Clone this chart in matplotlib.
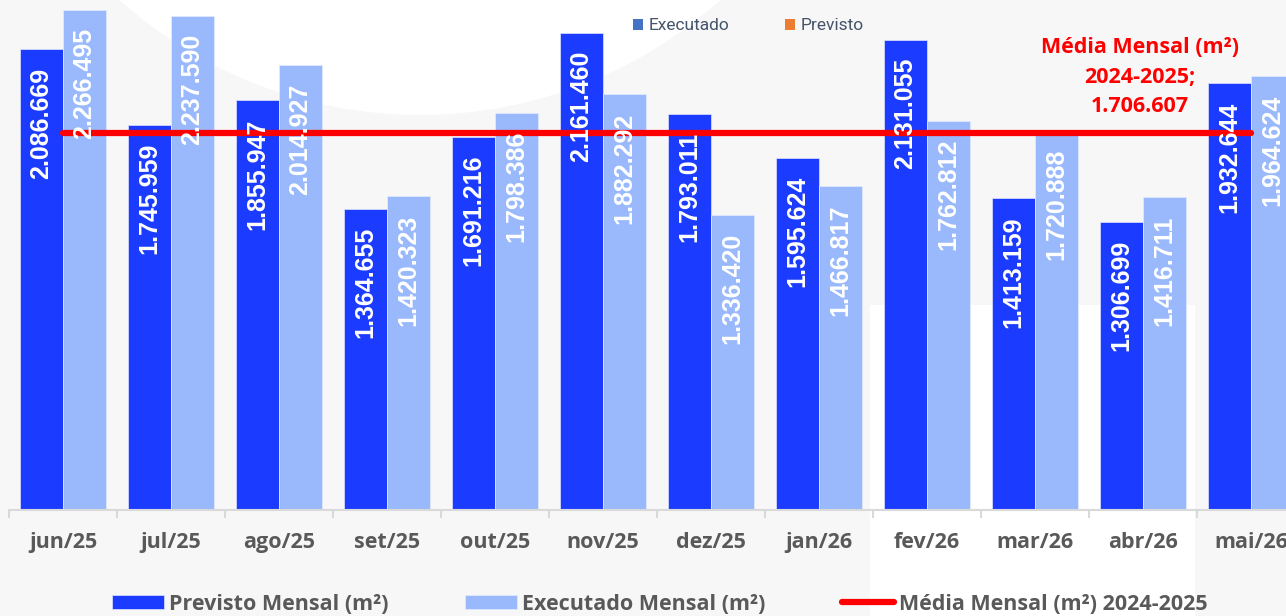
import matplotlib
matplotlib.use("Agg")
import matplotlib.pyplot as plt
import numpy as np
from matplotlib.patches import Patch, Ellipse, Rectangle

# dados
meses = ['jun/25', 'jul/25', 'ago/25', 'set/25', 'out/25', 'nov/25',
         'dez/25', 'jan/26', 'fev/26', 'mar/26', 'abr/26', 'mai/26']
previsto = [2086669, 1745959, 1855947, 1364655, 1691216, 2161460,
            1793011, 1595624, 2131055, 1413159, 1306699, 1932644]
executado = [2266495, 2237590, 2014927, 1420323, 1798386, 1882292,
             1336420, 1466817, 1762812, 1720888, 1416711, 1964624]
media_mensal = 1706607
media_linhas = ['Média Mensal (m²)', '2024-2025;', '1.706.607']

# cores
COR_PREVISTO = '#1b3cff'
COR_EXECUTADO = '#99b9fc'
COR_MEDIA = '#ff0000'
COR_TEXTO = '#595959'
COR_FUNDO = '#f7f7f7'
FONTE = 'Open Sans'


def fmt(v):
    return f'{v:,}'.replace(',', '.')


fig = plt.figure(figsize=(12.86, 6.16), dpi=100)
fig.patch.set_facecolor(COR_FUNDO)

# manchas brancas do fundo
fig.patches.append(Ellipse((420 / 1286, 1 + 335 / 616), 2 * 450 / 1286, 2 * 450 / 616,
                           transform=fig.transFigure, facecolor='white',
                           edgecolor='none', zorder=-10))
fig.patches.append(Rectangle((870 / 1286, 0), 325 / 1286, 311 / 616,
                             transform=fig.transFigure, facecolor='white',
                             edgecolor='none', zorder=-10))

ax = fig.add_axes([9 / 1286, 106 / 616, 1296 / 1286, 510 / 616])
ax.set_facecolor('none')

x = np.arange(len(meses))
w = 0.4

b1 = ax.bar(x - w / 2, previsto, w, color=COR_PREVISTO, edgecolor='#dfe5ff',
            linewidth=0.5, zorder=2, label='Previsto Mensal (m²)')
b2 = ax.bar(x + w / 2, executado, w, color=COR_EXECUTADO, edgecolor='#e4ebff',
            linewidth=0.5, zorder=2, label='Executado Mensal (m²)')

# linha da media
linha, = ax.plot([x[0], x[-1]], [media_mensal, media_mensal], color=COR_MEDIA,
                 linewidth=4.5, solid_capstyle='round', zorder=3,
                 label='Média Mensal (m²) 2024-2025')

# rotulos das barras
for bars, vals in ((b1, previsto), (b2, executado)):
    for r, v in zip(bars, vals):
        ax.annotate(fmt(v), (r.get_x() + r.get_width() / 2, v),
                    xytext=(0, -13), textcoords='offset points',
                    rotation=90, ha='center', va='top', color='white',
                    fontsize=18, fontweight='bold', family='Liberation Sans',
                    zorder=4)

# rotulo da media (uma linha por texto)
for txt, dy in zip(media_linhas, (62, 40, 19.5)):
    ax.annotate(txt, (x[-1] - 1.03, media_mensal), xytext=(0, dy),
                textcoords='offset points', color=COR_MEDIA, ha='center',
                va='center', fontsize=15.5, fontweight='bold', family=FONTE,
                zorder=5)

ax.set_xlim(-0.5, len(meses) - 0.5)
ax.set_ylim(0, 2310300)
ax.set_yticks([])

ax.set_xticks(x)
ax.set_xticklabels(meses, fontsize=15.5, fontweight='bold', family=FONTE,
                   color=COR_TEXTO)
ax.set_xticks(np.arange(-0.5, len(meses), 1), minor=True)
ax.tick_params(axis='x', which='major', length=0, pad=16)
ax.tick_params(axis='x', which='minor', length=6, width=1.5, color='#d9d9d9')

for s in ('top', 'right', 'left'):
    ax.spines[s].set_visible(False)
ax.spines['bottom'].set_color('#d9d9d9')
ax.spines['bottom'].set_linewidth(1.5)

# legenda inferior
leg = fig.legend(handles=[b1, b2, linha], loc='center',
                 bbox_to_anchor=(660 / 1286, 12 / 616), ncol=3, frameon=False,
                 prop={'family': FONTE, 'weight': 'bold', 'size': 15.5},
                 handlelength=2.4, handleheight=0.65, handletextpad=0.25,
                 columnspacing=3.55, borderpad=0)
for t in leg.get_texts():
    t.set_color(COR_TEXTO)

# legenda superior
h_top = [Patch(facecolor='#4472c4', edgecolor='none', label='Executado'),
         Patch(facecolor='#ed7d31', edgecolor='none', label='Previsto')]
leg2 = fig.legend(handles=h_top, loc='center',
                  bbox_to_anchor=(748 / 1286, 590 / 616), ncol=2, frameon=False,
                  prop={'family': 'Roboto', 'size': 12.5},
                  handlelength=0.6, handleheight=0.6, handletextpad=0.3,
                  columnspacing=3.2, borderpad=0)
for t in leg2.get_texts():
    t.set_color('#44546a')

fig.savefig('out.png', dpi=100, facecolor=COR_FUNDO)
